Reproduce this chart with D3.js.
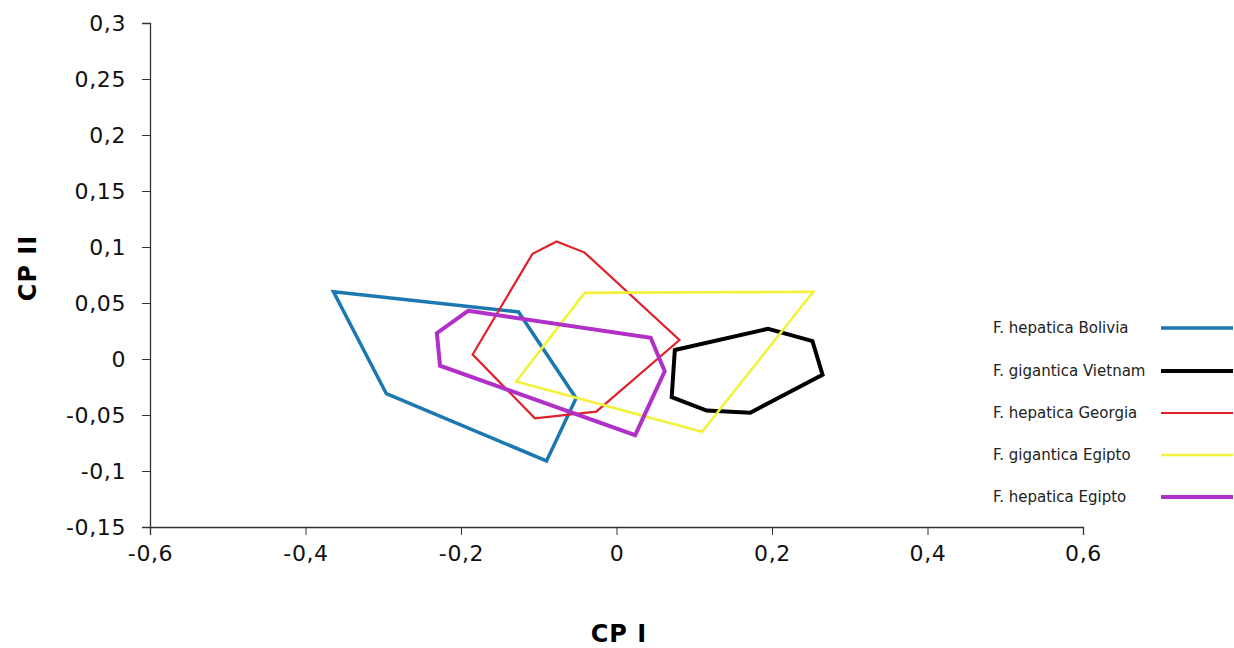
<!DOCTYPE html>
<html>
<head>
<meta charset="utf-8">
<script src="https://cdn.jsdelivr.net/npm/d3@7"></script>
<style>
	body { margin: 0; background: #fff; }
	text { font-family: "DejaVu Sans", Verdana, sans-serif; }
</style>
</head>
<body>
<div id="canvas"></div>
<script>

// hull vertices, [CP I, CP II]
var boliviaHull = [[-0.364, 0.060], [-0.126, 0.042], [-0.052, -0.035], [-0.090, -0.091], [-0.296, -0.031]]
var vietnamHull = [[0.075, 0.008], [0.195, 0.027], [0.200, 0.026], [0.252, 0.016], [0.265, -0.014], [0.172, -0.048], [0.116, -0.046], [0.071, -0.034]]
var georgiaHull = [[-0.185, 0.004], [-0.108, 0.094], [-0.077, 0.105], [-0.041, 0.095], [0.081, 0.017], [-0.026, -0.047], [-0.105, -0.053]]
var gigEgiptoHull = [[-0.041, 0.059], [0.253, 0.060], [0.110, -0.065], [-0.129, -0.020]]
var hepEgiptoHull = [[-0.191, 0.043], [0.044, 0.019], [0.062, -0.011], [0.024, -0.068], [-0.227, -0.006], [-0.231, 0.023]]

var seriesNames = ["F. hepatica Bolivia", "F. gigantica Vietnam", "F. hepatica Georgia", "F. gigantica Egipto", "F. hepatica Egipto"]
var seriesColors = ["#1c78b0", "#000000", "#e0202a", "#f2f23a", "#b030c8"]
var seriesWidths = [3.5, 4, 2.2, 2.6, 4]

var xTicks = [-0.6, -0.4, -0.2, 0, 0.2, 0.4, 0.6]
var yTicks = [-0.15, -0.1, -0.05, 0, 0.05, 0.1, 0.15, 0.2, 0.25, 0.3]

var hulls = [boliviaHull, vietnamHull, georgiaHull, gigEgiptoHull, hepEgiptoHull]

var width = 1234, height = 648
var plotLeft = 150, plotRight = 1083, plotTop = 23, plotBottom = 527

var svg = d3.select('#canvas').append("svg")
	.attr("width", width)
	.attr("height", height)

var x = d3.scaleLinear().domain([-0.6, 0.6]).range([plotLeft, plotRight])
var y = d3.scaleLinear().domain([-0.15, 0.3]).range([plotBottom, plotTop])

function comma(d) {
	return String(d).replace(".", ",")
}

svg.append("g")
	.attr("transform", "translate(0," + plotBottom + ")")
	.call(d3.axisBottom(x).tickValues(xTicks).tickFormat(comma).tickSize(8).tickPadding(10))
svg.append("g")
	.attr("transform", "translate(" + plotLeft + ",0)")
	.call(d3.axisLeft(y).tickValues(yTicks).tickFormat(comma).tickSize(8).tickPadding(16))

svg.selectAll(".domain").attr("stroke", "#333").attr("stroke-width", 1.3)
svg.selectAll(".tick line").attr("stroke", "#333").attr("stroke-width", 1)
svg.selectAll(".tick text")
	.style("font-size", "22px")
	.style("letter-spacing", "0.6px")
	.attr("fill", "#111")

// axis titles
svg.append("text")
	.attr("x", 619)
	.attr("y", 642)
	.attr("text-anchor", "middle")
	.style("font-size", "24px")
	.style("font-weight", "bold")
	.style("letter-spacing", "1px")
	.text("CP I")

svg.append("text")
	.attr("transform", "translate(36,268) rotate(-90)")
	.attr("text-anchor", "middle")
	.style("font-size", "24px")
	.style("font-weight", "bold")
	.style("letter-spacing", "1px")
	.text("CP II")

var line = d3.line()
	.x(function (d) { return x(d[0]) })
	.y(function (d) { return y(d[1]) })
	.curve(d3.curveLinearClosed)

svg.selectAll(".hull")
	.data(hulls)
	.enter().append("path")
		.attr("class", "hull")
		.attr("d", line)
		.attr("fill", "none")
		.attr("stroke", function (d, i) { return seriesColors[i] })
		.attr("stroke-width", function (d, i) { return seriesWidths[i] })
		.attr("stroke-linejoin", "miter")

// legend
var legendY = [328, 371, 413, 455, 497]
var legend = svg.selectAll(".legend")
	.data(seriesNames)
	.enter().append("g")
		.attr("class", "legend")
		.attr("transform", function (d, i) { return "translate(0," + legendY[i] + ")" })

legend.append("text")
	.attr("x", 993)
	.attr("y", 5)
	.style("font-size", "15px")
	.attr("fill", "#222")
	.text(function (d) { return d })

legend.append("line")
	.attr("x1", 1161)
	.attr("x2", 1233)
	.attr("stroke", function (d, i) { return seriesColors[i] })
	.attr("stroke-width", function (d, i) { return seriesWidths[i] })

</script>
</body>
</html>
